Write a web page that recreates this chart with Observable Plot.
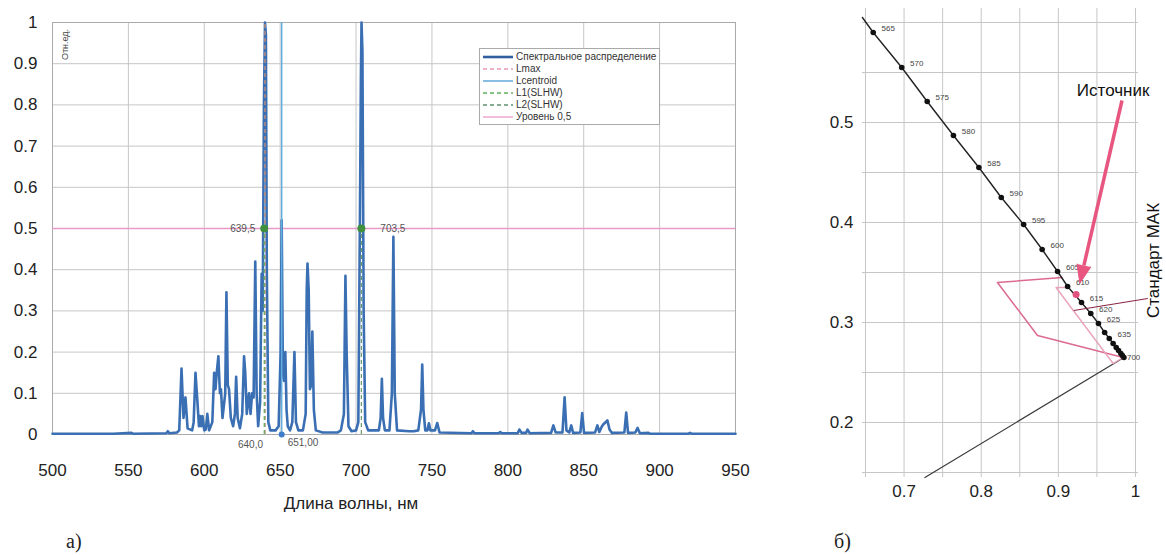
<!DOCTYPE html>
<html><head><meta charset="utf-8">
<script src="https://cdn.jsdelivr.net/npm/d3@7"></script>
<script src="https://cdn.jsdelivr.net/npm/@observablehq/plot@0.6"></script>
<style>
body{margin:0;background:#fff;width:1166px;height:555px;overflow:hidden;position:relative;font-family:"Liberation Sans",Arial,sans-serif;}
#left{position:absolute;left:0;top:0}
#right{position:absolute;left:780px;top:0}
.lbl{position:absolute;font-family:"Liberation Serif","DejaVu Serif",serif;font-size:20px;color:#222}
#legend{position:absolute;left:479px;top:48px;width:181px;height:77px;border:1px solid #aaa;background:#fff;box-sizing:border-box}
.row{position:absolute;left:2px;height:12px;width:176px}
.row svg{position:absolute;left:0;top:0}
.row span{position:absolute;left:34px;top:0;font-size:10px;line-height:12px;color:#333;white-space:nowrap}
</style></head><body>
<div id="left"></div><div id="right"></div>
<div id="legend"></div>
<div class="lbl" style="left:66px;top:530px">а)</div>
<div class="lbl" style="left:834px;top:530px">б)</div>
<script>
// ---------- Panel a) spectral distribution ----------
const wl = [500,540,552,553,575,576,577,582,583.5,585,586.3,587.6,589,592,593,594.2,595.3,596.5,597.2,598,598.8,600,601,602,603.2,605.3,606.5,607.4,608.2,609.3,610.3,611,612,613.8,614.6,615.5,616.3,617.5,619,620.2,621,622,623.5,625,626.2,627,628,629.5,630.5,631.5,632.5,633.6,634.5,635.5,636.8,637.8,638.5,639.3,640,640.6,641.2,642.2,643.5,647,649,650.3,651,651.8,652.5,653.4,654.2,655,656.5,658,659.4,660.4,662,665,666.8,667.5,668,668.8,669.6,670.4,671.2,672.2,673.5,678,688,690,692,693,693.8,695,697,700,701.5,702.5,703.2,703.6,704.2,705,706,708,712,715,716.2,717,717.8,719,722,723.6,724.6,725.5,727,735,738,741,742.8,743.6,744.4,745.6,747,748,749,752,753.5,755,776,777,778,794,795,796,806.5,807.6,809,812,813,814.5,828.5,830,831.5,836,837.4,838.6,840.5,841.8,843,847.8,849,850.2,857.5,859,860.3,862,863,865.6,867,868.5,876.8,878,879.2,884,885.5,887,892.6,893.5,919,920,921,950];
const val = [0.002,0.002,0.004,0.002,0.003,0.008,0.003,0.005,0.01,0.16,0.04,0.09,0.015,0.01,0.03,0.15,0.09,0.02,0.045,0.02,0.045,0.01,0.012,0.05,0.01,0.03,0.15,0.11,0.15,0.19,0.1,0.11,0.04,0.1,0.345,0.12,0.11,0.04,0.02,0.05,0.14,0.04,0.015,0.05,0.19,0.15,0.05,0.1,0.05,0.1,0.09,0.42,0.1,0.02,0.08,0.39,0.3,0.8,1.0,0.97,0.4,0.03,0.01,0.01,0.02,0.2,0.52,0.15,0.13,0.2,0.06,0.02,0.01,0.03,0.2,0.03,0.01,0.01,0.05,0.35,0.415,0.35,0.11,0.12,0.25,0.06,0.01,0.005,0.005,0.01,0.05,0.385,0.2,0.02,0.008,0.01,0.03,0.5,0.87,1.0,0.93,0.3,0.03,0.01,0.01,0.01,0.04,0.135,0.04,0.01,0.01,0.1,0.48,0.1,0.01,0.008,0.008,0.01,0.06,0.17,0.06,0.01,0.01,0.027,0.01,0.01,0.028,0.005,0.003,0.008,0.003,0.003,0.006,0.003,0.003,0.012,0.004,0.004,0.012,0.003,0.004,0.022,0.005,0.005,0.09,0.01,0.005,0.022,0.004,0.005,0.052,0.004,0.005,0.022,0.006,0.02,0.025,0.034,0.012,0.004,0.005,0.053,0.004,0.005,0.016,0.003,0.004,0.002,0.002,0.004,0.002,0.002];
const xTicksA = [500,550,600,650,700,750,800,850,900,950];
const yTicksA = [0,0.1,0.2,0.3,0.4,0.5,0.6,0.7,0.8,0.9,1];
const Lmax = 640, Lcentroid = 651, L1 = 639.5, L2 = 703.5, level = 0.5;
const L1label = "639,5", L2label = "703,5", LmaxLabel = "640,0", LcentroidLabel = "651,00";
const xTitleA = "Длина волны, нм", yUnitA = "Отн.ед.";

const legendLabels = ["Спектральное распределение","Lmax","Lcentroid","L1(SLHW)","L2(SLHW)","Уровень 0,5"];
const legendColors = ["#2f5f9f","#e79ab0","#6aaedc","#5fb35f","#5f8f6f","#e99ac8"];
const legendDash = [null,"4,3",null,"4,3","4,3",null];
const legendWidth = [2.6,1.3,1.6,1.3,1.3,1.3];

const spectrum = wl.map((w,i)=>({w, v: val[i]}));

const left = Plot.plot({
  width: 760, height: 520, marginLeft: 52, marginRight: 25, marginTop: 22, marginBottom: 86,
  style: {fontFamily: "Liberation Sans, Arial, sans-serif", fontSize: "17px", color: "#222", background: "transparent", overflow: "visible"},
  x: {domain: [500, 950]},
  y: {domain: [0, 1]},
  marks: [
    Plot.ruleX(xTicksA, {stroke: "#c6c6c6", strokeWidth: 1}),
    Plot.ruleY(yTicksA, {stroke: "#c6c6c6", strokeWidth: 1}),
    Plot.frame({stroke: "#aaaaaa"}),
    Plot.axisX({ticks: xTicksA, tickSize: 0, tickPadding: 29, tickFormat: d => String(d), label: null, fontSize: 17}),
    Plot.axisY({ticks: yTicksA, tickSize: 0, tickPadding: 15, tickFormat: d => String(d), label: null, fontSize: 17}),
    Plot.ruleY([level], {stroke: "#e99ac8", strokeWidth: 1.4}),
    Plot.line(spectrum, {x: "w", y: "v", stroke: "#3a6fb4", strokeWidth: 2.6, strokeLinejoin: "round"}),
    Plot.ruleX([Lcentroid], {y1: 0, y2: 1, stroke: "#62aee0", strokeWidth: 1.5}),
    Plot.ruleX([Lmax], {y1: 0, y2: 1, stroke: "#b98a7c", strokeWidth: 1.5, strokeDasharray: "4,3"}),
    Plot.ruleX([L1], {y1: 0, y2: level, stroke: "#5fb35f", strokeWidth: 1.2, strokeDasharray: "4,3"}),
    Plot.ruleX([L2], {y1: 0, y2: level, stroke: "#6a9a6a", strokeWidth: 1.2, strokeDasharray: "4,3"}),
    Plot.dot([{x: L1, y: level}, {x: L2, y: level}], {x: "x", y: "y", r: 4, fill: "#3f8f3f"}),
    Plot.dot([{x: Lcentroid, y: 0}], {x: "x", y: "y", r: 3, fill: "#3d7cc9"}),
    Plot.text([{x: L1, y: level, t: L1label}], {x: "x", y: "y", text: "t", textAnchor: "end", dx: -9, fontSize: 10, fill: "#555"}),
    Plot.text([{x: L2, y: level, t: L2label}], {x: "x", y: "y", text: "t", textAnchor: "start", dx: 19, fontSize: 10, fill: "#555"}),
    Plot.text([{x: Lmax, y: 0, t: LmaxLabel}], {x: "x", y: "y", text: "t", textAnchor: "end", dx: -2, dy: 10, fontSize: 10, fill: "#555"}),
    Plot.text([{x: Lcentroid, y: 0, t: LcentroidLabel}], {x: "x", y: "y", text: "t", textAnchor: "start", dx: 6, dy: 8, fontSize: 10, fill: "#555"}),
    Plot.text([yUnitA], {text: d => d, frameAnchor: "top-left", dx: 13, dy: 22, rotate: -90, textAnchor: "middle", lineAnchor: "middle", fontSize: 9, fill: "#444"}),
    Plot.text([xTitleA], {text: d => d, frameAnchor: "bottom", dx: -43, dy: 69, lineAnchor: "middle", fontSize: 17, fill: "#222"})
  ]
});
document.getElementById("left").appendChild(left);

// legend
const lg = document.getElementById("legend");
legendLabels.forEach((t, i) => {
  const row = document.createElement("div");
  row.className = "row";
  row.style.top = (2 + i * 12) + "px";
  row.innerHTML = `<svg width="32" height="12"><line x1="1" x2="31" y1="6" y2="6" stroke="${legendColors[i]}" stroke-width="${legendWidth[i]}" ${legendDash[i] ? `stroke-dasharray="${legendDash[i]}"` : ""}/></svg><span>${t}</span>`;
  lg.appendChild(row);
});

// ---------- Panel б) chromaticity diagram ----------
const locusWl = [565,570,575,580,585,590,595,600,605,610,615,620,625,630,635,640,645,650,660,670,700];
const locusX = [0.660,0.697,0.730,0.764,0.797,0.826,0.855,0.879,0.899,0.912,0.930,0.942,0.952,0.960,0.966,0.971,0.975,0.978,0.981,0.983,0.985];
const locusY = [0.590,0.555,0.521,0.487,0.455,0.425,0.398,0.373,0.351,0.336,0.320,0.309,0.299,0.290,0.284,0.279,0.275,0.272,0.269,0.267,0.265];
const locusLabelWl = [565,570,575,580,585,590,595,600,605,610,615,620,625,635];
const locusStart = [0.646, 0.605];
const purpleEnd = [0.727, 0.145];
const outerX = [0.905,0.821,0.873,0.984], outerY = [0.345,0.340,0.287,0.265];
const innerX = [0.910,0.897,0.971,0.984], innerY = [0.335,0.335,0.259,0.265];
const sourcePt = [0.923, 0.328];
const arrowFrom = [0.9825, 0.522], arrowHeadBase = [0.9331, 0.357];
const sourceText = "Источник", standardText = "Стандарт МАК";
const sourceTextPos = [0.971, 0.532], standardTextPos = [1.024, 0.362];
const leaderFrom = [1.016, 0.324], leaderTo = [0.920, 0.312];
const gridXb = [0.65,0.7,0.75,0.8,0.85,0.9,0.95,1.0];
const gridYb = [0.15,0.2,0.25,0.3,0.35,0.4,0.45,0.5,0.55,0.6];
const xTicksB = [0.7,0.8,0.9,1];
const yTicksB = [0.2,0.3,0.4,0.5];

const locus = locusWl.map((w,i)=>({w, x: locusX[i], y: locusY[i]}));
const locusLine = [{x: locusStart[0], y: locusStart[1]}, ...locus];
const last = locus[locus.length - 1];
const purple = [{x: last.x, y: last.y}, {x: purpleEnd[0], y: purpleEnd[1]}];
const outer = outerX.map((x,i)=>({x, y: outerY[i]}));
const inner = innerX.map((x,i)=>({x, y: innerY[i]}));
const labeled = locus.filter(d => locusLabelWl.includes(d.w));

const right = Plot.plot({
  width: 386, height: 512, marginLeft: 85, marginRight: 31, marginTop: 22, marginBottom: 40,
  style: {fontFamily: "Liberation Sans, Arial, sans-serif", fontSize: "17px", color: "#222", background: "transparent", overflow: "visible"},
  x: {domain: [0.65, 1.0]},
  y: {domain: [0.15, 0.6]},
  marks: [
    Plot.ruleX(gridXb, {y1: 0.145, y2: 0.614, stroke: "#c6c6c6", strokeWidth: 1}),
    Plot.ruleY(gridYb, {x1: 0.646, x2: 1.004, stroke: "#c6c6c6", strokeWidth: 1.2}),
    Plot.axisX({ticks: xTicksB, tickSize: 0, tickPadding: 12, tickFormat: d => String(d), label: null, fontSize: 17}),
    Plot.axisY({ticks: yTicksB, tickSize: 0, tickPadding: 12, tickFormat: d => String(d), label: null, fontSize: 17}),
    Plot.line(purple, {x: "x", y: "y", stroke: "#3a3a3a", strokeWidth: 1.2}),
    Plot.line(outer, {x: "x", y: "y", stroke: "#dc6a92", strokeWidth: 1.5}),
    Plot.line(inner, {x: "x", y: "y", stroke: "#eaa2bb", strokeWidth: 1.4}),
    Plot.line(locusLine, {x: "x", y: "y", stroke: "#222", strokeWidth: 1.4}),
    Plot.dot(locus, {x: "x", y: "y", r: 2.8, fill: "#111"}),
    Plot.text(labeled, {x: "x", y: "y", text: d => String(d.w), dx: 15, dy: -4, textAnchor: "middle", fontSize: 8, fill: "#444"}),
    Plot.text([last], {x: "x", y: "y", text: d => String(d.w), dx: 3, textAnchor: "start", fontSize: 8, fill: "#444"}),
    Plot.dot([{x: sourcePt[0], y: sourcePt[1]}], {x: "x", y: "y", r: 3.5, fill: "#e2527e"}),
    Plot.link([{x1: arrowFrom[0], y1: arrowFrom[1], x2: arrowHeadBase[0], y2: arrowHeadBase[1]}], {x1: "x1", y1: "y1", x2: "x2", y2: "y2", stroke: "#e8557f", strokeWidth: 3.5}),
    Plot.vector([{x: arrowHeadBase[0], y: arrowHeadBase[1]}], {x: "x", y: "y", anchor: "start", shape: "spike", length: 18, r: 7, rotate: 193, fill: "#e8557f", stroke: "#e8557f", strokeWidth: 1}),
    Plot.link([{x1: leaderFrom[0], y1: leaderFrom[1], x2: leaderTo[0], y2: leaderTo[1]}], {x1: "x1", y1: "y1", x2: "x2", y2: "y2", stroke: "#8a2040", strokeWidth: 1}),
    Plot.text([{x: sourceTextPos[0], y: sourceTextPos[1], t: sourceText}], {x: "x", y: "y", text: "t", fontSize: 17, fill: "#111"}),
    Plot.text([{x: standardTextPos[0], y: standardTextPos[1], t: standardText}], {x: "x", y: "y", text: "t", rotate: -90, fontSize: 17, fill: "#111"})
  ]
});
document.getElementById("right").appendChild(right);
</script></body></html>
